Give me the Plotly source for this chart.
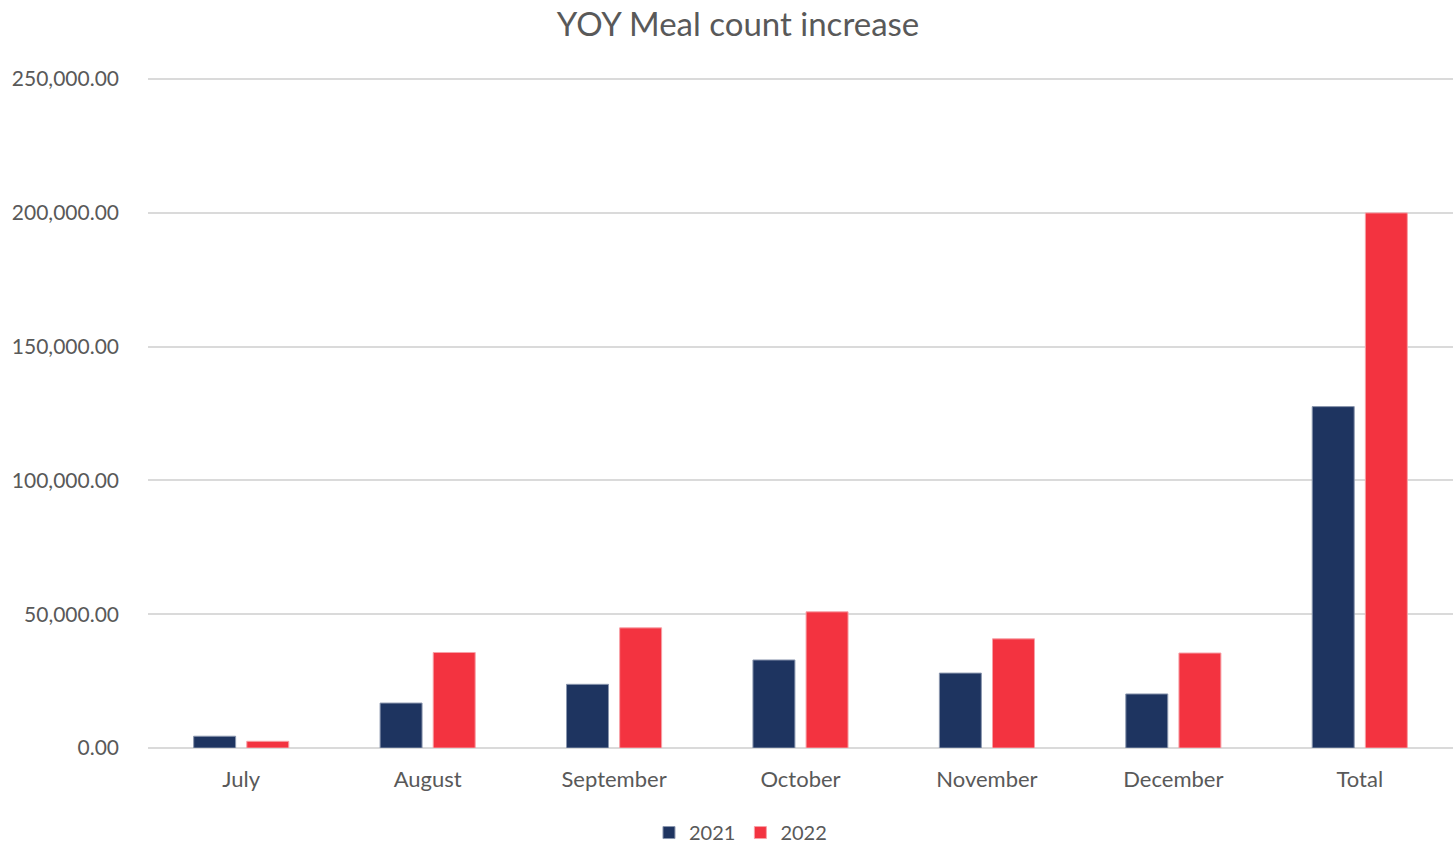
import plotly.graph_objects as go

categories = ["July", "August", "September", "October", "November", "December", "Total"]
values_2021 = [4400, 16800, 23800, 32900, 28000, 20200, 127600]
values_2022 = [2500, 35700, 44900, 50900, 40800, 35500, 200000]
tick_vals = [0, 50000, 100000, 150000, 200000, 250000]
tick_text = ["0.00", "50,000.00", "100,000.00", "150,000.00", "200,000.00", "250,000.00"]

FONT = "Lato"
GREY = "#595959"

fig = go.Figure()
fig.add_trace(go.Bar(name="2021", x=categories, y=values_2021,
                     marker=dict(color="#1E3460", line=dict(color="#8A96AE", width=1))))
fig.add_trace(go.Bar(name="2022", x=categories, y=values_2022,
                     marker=dict(color="#F33340", line=dict(color="#F7A0A6", width=1))))

fig.update_layout(
    width=1454, height=843,
    paper_bgcolor="white", plot_bgcolor="white",
    margin=dict(l=148, r=1, t=77, b=95, autoexpand=False),
    barmode="group", bargap=0.43, bargroupgap=0.21,
    title=dict(text="YOY Meal count increase", x=0.5076, xref="container", xanchor="center",
               y=1 - 24 / 843, yref="container", yanchor="middle",
               font=dict(family=FONT, size=33, color=GREY)),
    font=dict(family=FONT, size=21, color=GREY),
    legend=dict(orientation="h", x=0.454, xanchor="center", y=-0.126, yanchor="middle",
                font=dict(family=FONT, size=20, color=GREY),
                itemwidth=30, tracegroupgap=0),
    showlegend=True,
)
fig.update_yaxes(range=[0, 250800], tickvals=tick_vals, ticktext=tick_text,
                 showgrid=True, gridcolor="#DADADA", gridwidth=2,
                 zeroline=True, zerolinecolor="#DADADA", zerolinewidth=2,
                 showline=False, ticks="", ticklabelstandoff=28, automargin=False,
                 tickfont=dict(family=FONT, size=21, color=GREY))
fig.update_xaxes(showline=False, ticks="", ticklabelstandoff=16, automargin=False,
                 tickfont=dict(family=FONT, size=22, color=GREY))

fig.write_html("out.html", config={"displayModeBar": False},
               post_script="document.body.style.margin='0';document.body.style.overflow='hidden';")
